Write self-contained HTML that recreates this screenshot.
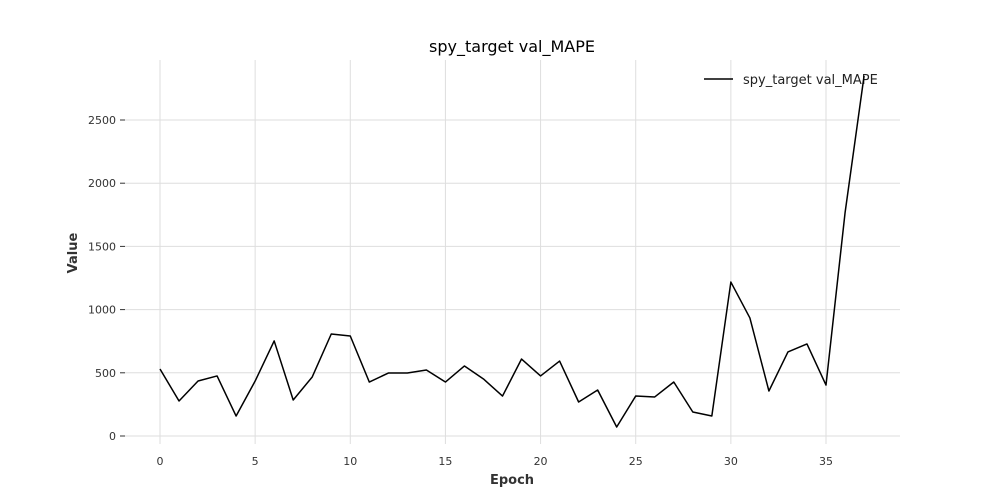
<!DOCTYPE html>
<html><head><meta charset="utf-8"><style>
html,body{margin:0;padding:0;background:#fff;width:1000px;height:500px;overflow:hidden}
text{font-family:"DejaVu Sans","Liberation Sans",sans-serif}
</style></head><body>
<svg id="chart" width="1000" height="500" xmlns="http://www.w3.org/2000/svg">
<text x="512" y="52" text-anchor="middle" font-size="16" fill="#000">spy_target val_MAPE</text>
<g id="grid"></g><g id="ticks"></g>
<text x="512" y="484" text-anchor="middle" font-size="13" font-weight="bold" fill="#333">Epoch</text>
<text transform="translate(77,253) rotate(-90)" text-anchor="middle" font-size="13" font-weight="bold" fill="#333">Value</text>
<g>
<line x1="704" y1="79" x2="733" y2="79" stroke="#000" stroke-width="1.5"/>
<text x="743" y="84" font-size="13" fill="#222">spy_target val_MAPE</text>
</g>
</svg>
<script>
const epochs=[0,1,2,3,4,5,6,7,8,9,10,11,12,13,14,15,16,17,18,19,20,21,22,23,24,25,26,27,28,29,30,31,32,33,34,35,36,37];
const values=[530,277,435,475,158,435,752,285,467,807,791,427,498,498,522,427,554,451,316,609,475,593,269,364,71,316,309,427,190,158,1218,934,356,665,728,403,1764,2848];
const xTicks=[0,5,10,15,20,25,30,35];
const yTicks=[0,500,1000,1500,2000,2500];
const NS="http://www.w3.org/2000/svg";
const L=125,R=900,T=60,B=444;
const x=v=>160+(v-0)*(826-160)/35;
const y=v=>436-v*316/2500;
const grid=document.getElementById('grid'),ticks=document.getElementById('ticks'),svg=document.getElementById('chart');
function mk(tag,attrs,parent){const e=document.createElementNS(NS,tag);for(const k in attrs)e.setAttribute(k,attrs[k]);parent.appendChild(e);return e;}
xTicks.forEach(t=>{
 const g=mk('line',{x1:x(t),x2:x(t),y1:T,y2:B,stroke:'#dedede','stroke-width':1},grid);
 
 
 const tx=mk('text',{x:x(t),y:465,'text-anchor':'middle','font-size':11,fill:'#333'},ticks);
 tx.textContent=t;
 
 
});
yTicks.forEach(t=>{
 const g=mk('line',{x1:L,x2:R,y1:y(t),y2:y(t),stroke:'#dedede','stroke-width':1},grid);
 
 
 const tk=mk('line',{x1:120,x2:125,y1:y(t),y2:y(t),stroke:'#333','stroke-width':1},ticks);
 
 
 const tx=mk('text',{x:116,y:y(t)+4,'text-anchor':'end','font-size':11,fill:'#333'},ticks);
 tx.textContent=t;
 
 
});
const p=mk('polyline',{points:epochs.map((e,i)=>x(e)+','+y(values[i])).join(' '),fill:'none',stroke:'#000','stroke-width':1.5,'stroke-linejoin':'round'},svg);


</script>
</body></html>
